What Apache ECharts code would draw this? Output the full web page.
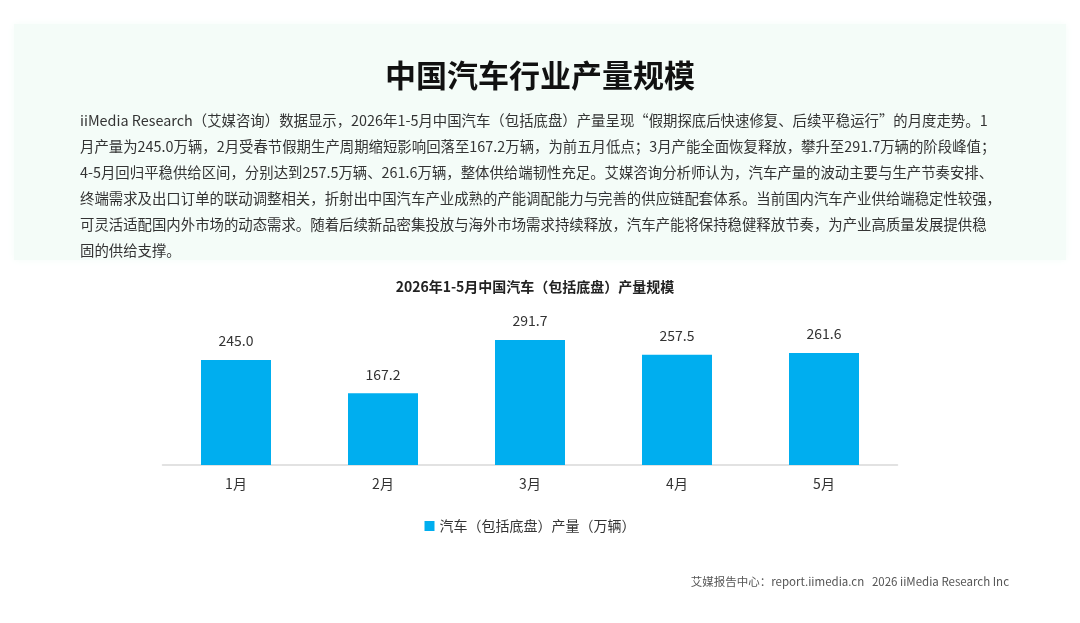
<!DOCTYPE html>
<html>
<head>
<meta charset="utf-8">
<script src="https://cdn.jsdelivr.net/npm/echarts@6/dist/echarts.min.js"></script>
<style>
html,body{margin:0;padding:0;background:#fff;}
#main{width:1080px;height:623px;}
</style>
</head>
<body>
<div id="main"></div>
<script>
const categories = ['1月', '2月', '3月', '4月', '5月'];
const production = [245.0, 167.2, 291.7, 257.5, 261.6];
const seriesName = '汽车（包括底盘）产量（万辆）';
const mainTitle = '中国汽车行业产量规模';
const chartTitle = '2026年1-5月中国汽车（包括底盘）产量规模';
const paragraphLines = [
  'iiMedia Research（艾媒咨询）数据显示，2026年1-5月中国汽车（包括底盘）产量呈现“假期探底后快速修复、后续平稳运行”的月度走势。1',
  '月产量为245.0万辆，2月受春节假期生产周期缩短影响回落至167.2万辆，为前五月低点；3月产能全面恢复释放，攀升至291.7万辆的阶段峰值；',
  '4-5月回归平稳供给区间，分别达到257.5万辆、261.6万辆，整体供给端韧性充足。艾媒咨询分析师认为，汽车产量的波动主要与生产节奏安排、',
  '终端需求及出口订单的联动调整相关，折射出中国汽车产业成熟的产能调配能力与完善的供应链配套体系。当前国内汽车产业供给端稳定性较强，',
  '可灵活适配国内外市场的动态需求。随着后续新品密集投放与海外市场需求持续释放，汽车产能将保持稳健释放节奏，为产业高质量发展提供稳',
  '固的供给支撑。'
];
const footerText = '艾媒报告中心：report.iimedia.cn   2026 iiMedia Research Inc';

const FONT = '"Noto Sans CJK SC", "Noto Sans", sans-serif';
const chart = echarts.init(document.getElementById('main'));

const graphics = [
  {
    type: 'rect', z: -10, silent: true,
    shape: { x: 14, y: 24, width: 1052, height: 236 },
    style: { fill: '#f4fcf8', shadowColor: '#f4fcf8', shadowBlur: 8 }
  }
];
paragraphLines.forEach((line, i) => {
  graphics.push({
    type: 'text', left: 80, top: 113 + i * 26,
    style: { text: line, font: '14.4px ' + FONT, fill: '#333333' }
  });
});
graphics.push({
  type: 'text', right: 71, top: 576,
  style: { text: footerText, font: '11.5px ' + FONT, fill: '#555555' }
});

chart.setOption({
  backgroundColor: '#ffffff',
  title: [
    {
      text: mainTitle, left: 'center', top: 55,
      textStyle: { fontFamily: FONT, fontSize: 31, fontWeight: 'bold', color: '#111111' }
    },
    {
      text: chartTitle, left: 530, textAlign: 'center', top: 275,
      textStyle: { fontFamily: FONT, fontSize: 14, fontWeight: 'bold', color: '#222222' }
    }
  ],
  graphic: graphics,
  legend: {
    data: [seriesName], left: 530, top: 514,
    itemWidth: 10, itemHeight: 10, icon: 'rect', itemGap: 8,
    textStyle: { fontFamily: FONT, fontSize: 14, color: '#333333' }
  },
  grid: { left: 162.5, right: 182.5, top: 315, bottom: 158 },
  xAxis: {
    type: 'category', data: categories,
    axisLine: { lineStyle: { color: '#d9d9d9', width: 1.5 } },
    axisTick: { show: false },
    axisLabel: { fontFamily: FONT, fontSize: 14, color: '#333333', margin: 12 }
  },
  yAxis: {
    type: 'value', min: 0, max: 350, show: false,
    splitLine: { show: false }
  },
  series: [{
    name: seriesName, type: 'bar', data: production, barWidth: 70,
    itemStyle: { color: '#00aeef' },
    label: {
      show: true, position: 'top', distance: 12,
      formatter: p => p.value.toFixed(1),
      fontFamily: FONT, fontSize: 14, color: '#333333'
    }
  }]
});

// center legend around x=530
setTimeout(() => {
  const lg = chart.getModel().getComponent('legend');
  const view = chart._componentsViews ? chart._componentsViews.find(v => v.__model === lg) : null;
  if (view && view.group) {
    const rect = view.group.getBoundingRect();
    chart.setOption({ legend: { left: 530 - rect.width / 2 } });
  }
}, 0);
</script>
</body>
</html>
